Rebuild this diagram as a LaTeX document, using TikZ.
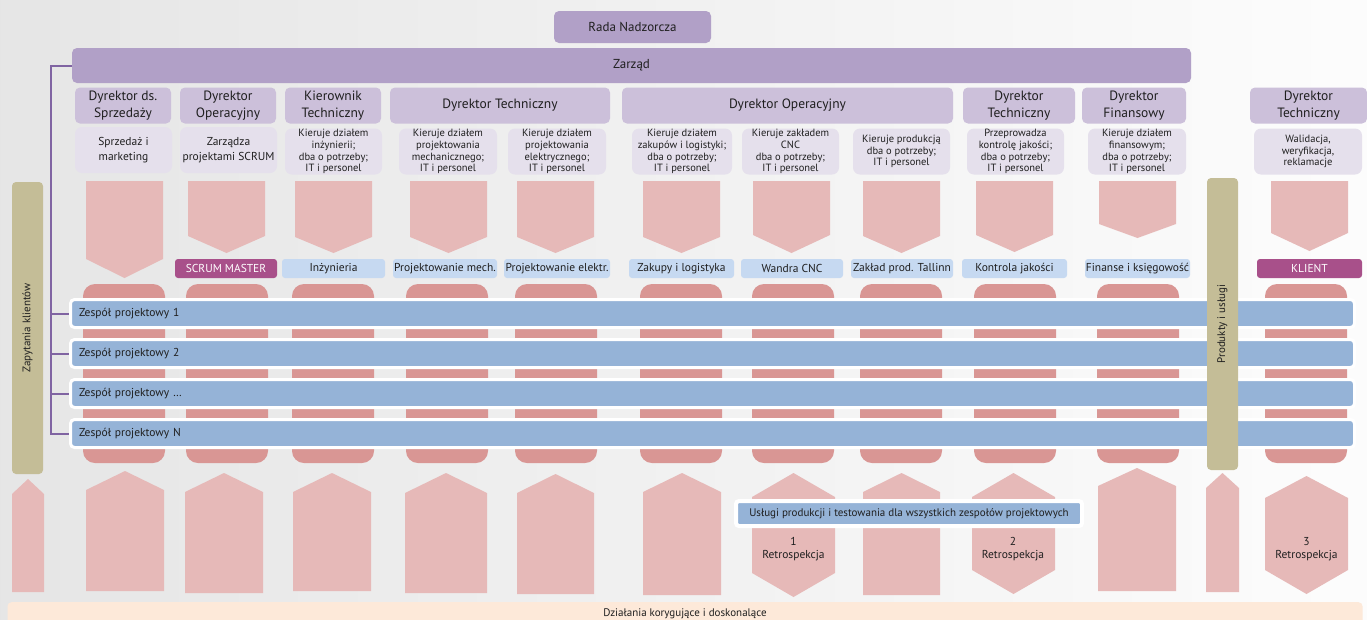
\documentclass[tikz,border=0pt]{standalone}
\usepackage{fontspec}
\setmainfont{PT Sans}
\usetikzlibrary{positioning}
\definecolor{cwlad}{HTML}{B1A0C7}
\definecolor{cdyr}{HTML}{CCC0DA}
\definecolor{copis}{HTML}{E5E0EC}
\definecolor{clacz}{HTML}{8064A2}
\definecolor{cgrot}{HTML}{E6B9B8}
\definecolor{cslup}{HTML}{D99694}
\definecolor{czesp}{HTML}{95B3D7}
\definecolor{cdzial}{HTML}{C6D9F1}
\definecolor{crola}{HTML}{A8508A}
\definecolor{cbok}{HTML}{C4BD97}
\definecolor{cdosk}{HTML}{FDE9D9}
\tikzset{every node/.style={inner sep=0,text=black!88,align=center},
  wlad/.style={fill=cwlad,rounded corners=5,font=\fontsize{13}{14}\selectfont},
  dyr/.style={fill=cdyr,rounded corners=5,minimum height=36,font=\fontsize{13.5}{17}\selectfont},
  opis/.style={fill=copis,rounded corners=7,minimum height=46,font=\fontsize{10.5}{11.7}\selectfont},
  dzial/.style={fill=cdzial,rounded corners=3,minimum height=19,font=\fontsize{11.5}{12}\selectfont},
  rola/.style={dzial,fill=crola,text=white},
  zespol/.style={fill=czesp,draw=white,line width=3,rounded corners=4,minimum width=1284,minimum height=28,text width=1267,inner xsep=8.5,align=left,font=\fontsize{11.5}{12}\selectfont},
  usl/.style={fill=czesp,draw=white,line width=4,rounded corners=3,minimum width=346,minimum height=25,font=\fontsize{11}{12}\selectfont},
  bok/.style={fill=cbok,rounded corners=4,rotate=90,minimum width=292,minimum height=31,font=\fontsize{11}{12}\selectfont},
  retro/.style={font=\fontsize{11.5}{13}\selectfont},
  grot/.style={fill=cgrot},
  slup/.style={fill=cslup,rounded corners=12},
  lacz/.style={draw=clacz,line width=2}}
\begin{document}
\begin{tikzpicture}[x=1pt,y=-1pt]
\useasboundingbox (0,0) rectangle (1367,619);
\shade[left color=black!10,middle color=black!4,right color=black!1] (0,0) rectangle (1367,619);
% wladze spolki
\node[wlad,minimum width=157,minimum height=32] (rada) at (632.5,27) {Rada Nadzorcza};
\node[wlad,minimum width=1119,minimum height=35] (zarz) at (631.5,65.5) {Zarząd};
% dyrektorzy i ich zadania
\foreach \n/\x/\w/\t in {d1/123/96/{Dyrektor ds.\\Sprzedaży},d2/228/96/{Dyrektor\\Operacyjny},d3/333/96/{Kierownik\\Techniczny},d4/500/220/{Dyrektor Techniczny},d5/787.5/331/{Dyrektor Operacyjny},d6/1019/112/{Dyrektor\\Techniczny},d7/1134/104/{Dyrektor\\Finansowy},d8/1308.5/117/{Dyrektor\\Techniczny}}
  {\node[dyr,minimum width=\w] (\n) at (\x,105.5) {\t};}
\node[opis,minimum width=97,font=\fontsize{11.5}{14.5}\selectfont] (s1) at (123.5,150) {Sprzedaż i\\marketing};
\node[opis,minimum width=97,font=\fontsize{11.5}{14.5}\selectfont] (s2) at (228.5,150) {Zarządza\\projektami SCRUM};
\foreach \n/\x/\w/\t in {s3/333.5/97/{Kieruje działem\\inżynierii;\\dba o potrzeby;\\IT i personel},s4/448/98/{Kieruje działem\\projektowania\\mechanicznego;\\IT i personel},s5/557/98/{Kieruje działem\\projektowania\\elektrycznego;\\IT i personel},s6/682/100/{Kieruje działem\\zakupów i logistyki;\\dba o potrzeby;\\IT i personel},s7/790.5/97/{Kieruje zakładem\\CNC\\dba o potrzeby;\\IT i personel},s8/901.5/97/{Kieruje produkcją\\dba o potrzeby;\\IT i personel},s9/1015.5/97/{Przeprowadza\\kontrolę jakości;\\dba o potrzeby;\\IT i personel},s10/1137/98/{Kieruje działem\\finansowym;\\dba o potrzeby;\\IT i personel},s11/1308/108/{Walidacja,\\weryfikacja,\\reklamacje}}
  {\node[opis,minimum width=\w] (\n) at (\x,151.5) {\t};}
% grotki w dol
\foreach \l/\s/\p in {86/259/278,188/236/253,295/237/253,410/237/253,517/237/253,643/237/253,753/235/253,863/236/253,976/235/252,1099/224/238,1271/233/251}
  {\fill[grot] (\l,181) -- (\l+77,181) -- (\l+77,\s) -- (\l+38.5,\p) -- (\l,\s) -- cycle;}
% dzialy
\node[rola,minimum width=102] (e2) at (226,268.5) {SCRUM MASTER};
\foreach \n/\x/\w/\t in {e3/333.5/103/Inżynieria,e4/445/104/Projektowanie mech.,e5/557/106/Projektowanie elektr.,e6/681.5/105/Zakupy i logistyka,e7/792/102/Wandra CNC,e8/902/102/Zakład prod. Tallinn,e9/1014.5/105/Kontrola jakości,e10/1137.5/105/Finanse i księgowość}
  {\node[dzial,minimum width=\w] (\n) at (\x,268.5) {\t};}
\node[rola,minimum width=105] (e11) at (1309.5,268.5) {KLIENT};
% slupki pod zespolami
\foreach \l in {83,186,292,406,515,640,752,860,974,1097,1265}
  {\fill[slup] (\l,284) rectangle (\l+82,463);}
% grotki w gore
\foreach \l/\w/\p/\s/\b in {12/32/479/494/592,86/78/471/490/591,185/78/473/492/593,293/78/473/492/591,405/82/473/493/593,517/77/474/493/594,643/78/473/492/595,863/77/473/492/595,1098/78/468/486/591,1206/33/473/488/592}
  {\fill[grot] (\l,\b) -- (\l,\s) -- (\l+\w/2,\p) -- (\l+\w,\s) -- (\l+\w,\b) -- cycle;}
\foreach \l/\p/\s/\d/\b in {752/473/497/573/597,972/473/497/570/594,1265/476/498/570/594}
  {\fill[grot] (\l,\s) -- (\l+41.5,\p) -- (\l+83,\s) -- (\l+83,\d) -- (\l+41.5,\b) -- (\l,\d) -- cycle;}
% zespoly projektowe
\foreach \i/\t in {1/1,2/2,3/…,4/N}
  {\node[zespol] (z\i) at (712.5,273.5+40*\i) {Zespół projektowy \t};}
\coordinate (pion) at (51,433.5);
\draw[lacz] (zarz.west) -| (pion) -- (z4.west);
\foreach \i in {1,2,3}{\draw[lacz] (pion |- z\i.west) -- (z\i.west);}
\node[bok] (zap) at (27.5,328) {Zapytania klientów};
\node[bok] (prod) at (1222.5,324) {Produkty i usługi};
\node[usl] (uslugi) at (909,513.5) {Usługi produkcji i testowania dla wszystkich zespołów projektowych};
\foreach \n/\x/\t in {r1/793.5/1,r2/1013/2,r3/1306.5/3}
  {\node[retro] (\n) at (\x,549) {\t\\Retrospekcja};}
\node[fill=cdosk,rounded corners=4,minimum width=1355,minimum height=24,anchor=north,font=\fontsize{11}{12}\selectfont] (dosk) at (685,602) {Działania korygujące i doskonalące};
\end{tikzpicture}
\end{document}
